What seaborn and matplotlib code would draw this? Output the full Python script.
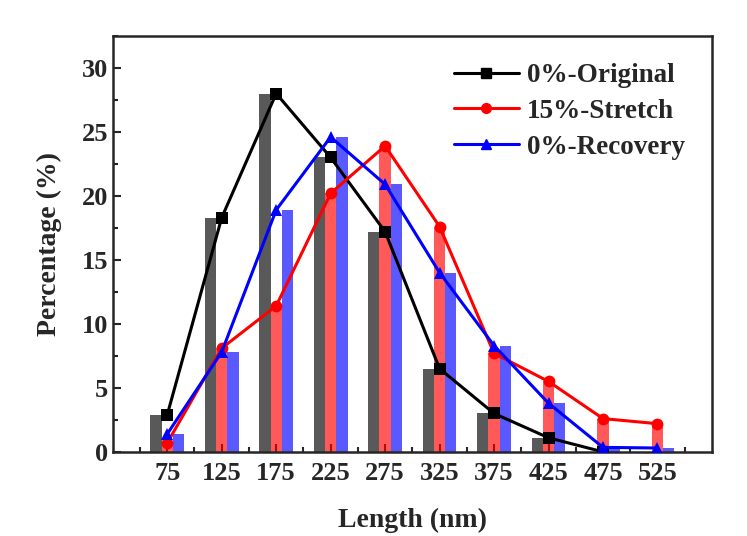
import numpy as np
import pandas as pd
import matplotlib
matplotlib.use('Agg')
import matplotlib.pyplot as plt
import seaborn as sns
from matplotlib.ticker import MultipleLocator, FixedLocator

# Dữ liệu
lengths = [75, 125, 175, 225, 275, 325, 375, 425, 475, 525]
original = [2.9, 18.3, 28.0, 23.0, 17.2, 6.5, 3.0, 1.1, 0.0, np.nan]
stretch = [0.7, 8.1, 11.4, 20.2, 23.9, 17.6, 7.7, 5.5, 2.6, 2.2]
recovery = [1.4, 7.8, 18.9, 24.6, 20.9, 14.0, 8.3, 3.8, 0.35, 0.3]
series_names = ['0%-Original', '15%-Stretch', '0%-Recovery']
line_colors = ['#000000', '#ff0000', '#0000ff']
markers = ['s', 'o', '^']

df = pd.DataFrame({
    'Length': lengths * 3,
    'Percentage': original + stretch + recovery,
    'Series': [s for s in series_names for _ in lengths],
})

sns.set_style('ticks')
plt.rcParams['font.family'] = ['Liberation Serif', 'DejaVu Serif']
plt.rcParams['font.weight'] = 'bold'

fig = plt.figure(figsize=(7.47, 5.36), dpi=100)
ax = fig.add_axes([0.151, 0.157, 0.802, 0.776])

# Cột
sns.barplot(data=df.dropna(), x='Length', y='Percentage', hue='Series',
            hue_order=series_names, palette=line_colors, native_scale=True,
            width=0.62, gap=0, alpha=0.65, saturation=1, linewidth=0,
            errorbar=None, legend=False, ax=ax)

# Đường nối
handles = []
for name, col, mk in zip(series_names, line_colors, markers):
    sub = df[df['Series'] == name].dropna()
    sns.lineplot(data=sub, x='Length', y='Percentage', color=col, marker=mk,
                 markersize=8.5, markeredgewidth=0, linewidth=2.2, ax=ax, zorder=5)
    h, = ax.plot([], [], color=col, marker=mk, markersize=7, linewidth=2.2)
    handles.append(h)

ax.set_xlim(25, 575)
ax.set_ylim(0, 32.5)
ax.xaxis.set_major_locator(FixedLocator(lengths))
ax.xaxis.set_minor_locator(FixedLocator(np.arange(50, 575, 50)))
ax.yaxis.set_major_locator(MultipleLocator(5))
ax.yaxis.set_minor_locator(MultipleLocator(2.5))
ax.tick_params(which='both', direction='in', width=1.5, labelsize=19,
               top=False, right=False)
ax.tick_params(which='major', length=6)
ax.tick_params(axis='x', which='major', pad=7)
ax.tick_params(which='minor', length=3.5)
for lab in ax.get_xticklabels() + ax.get_yticklabels():
    lab.set_fontweight('bold')
for sp in ax.spines.values():
    sp.set_linewidth(1.8)
    sp.set_visible(True)

ax.set_xlabel('Length (nm)', fontsize=20, fontweight='bold', labelpad=17)
ax.set_ylabel('Percentage (%)', fontsize=20, fontweight='bold', labelpad=14)

ax.legend(handles, series_names, loc='upper right', frameon=False,
          prop={'size': 19.5, 'weight': 'bold'}, handlelength=2.4,
          handletextpad=0.3, labelspacing=0.4, borderaxespad=0.6)

fig.savefig('out.png', dpi=100)
